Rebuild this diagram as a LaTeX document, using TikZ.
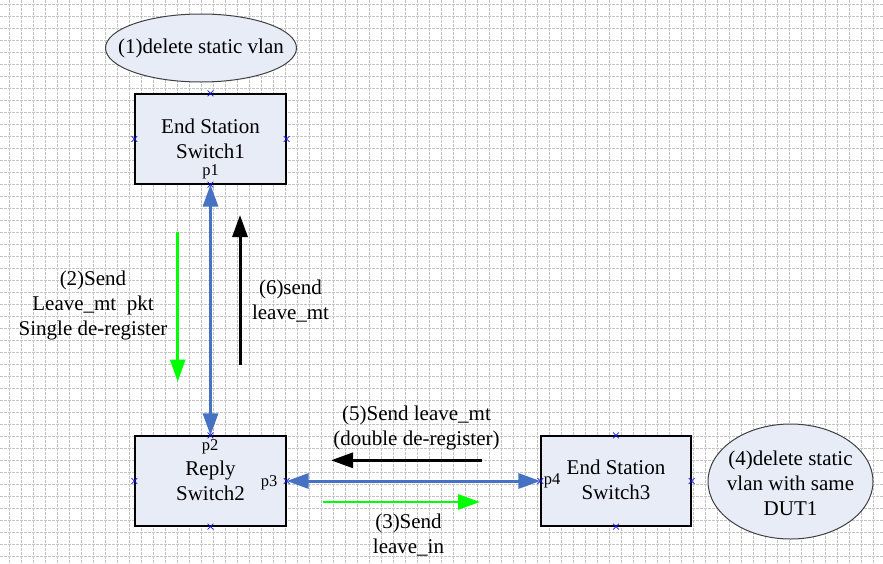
\documentclass[tikz,border=0pt]{standalone}
\usepackage{fontspec}
\setmainfont{Liberation Serif}
\usetikzlibrary{arrows.meta,shapes.geometric,shapes.misc}
\definecolor{gridc}{RGB}{196,196,196}
\definecolor{boxfill}{RGB}{231,236,247}
\definecolor{linkblue}{RGB}{70,114,196}
\definecolor{mkblue}{RGB}{20,20,230}
\definecolor{fgreen}{RGB}{0,255,0}
\begin{document}
\begin{tikzpicture}[x=1pt,y=-1pt,
  gridline/.style={gridc, line width=1pt, dash pattern=on 3pt off 1pt},
  box/.style={draw=black, line width=1.2pt, fill=boxfill, minimum width=151pt, minimum height=90pt, inner sep=0pt},
  oval/.style={ellipse, draw=black!75, line width=1pt, fill=boxfill, inner sep=0pt},
  txt/.style={font=\fontsize{21}{25}\selectfont, align=center, inner sep=0pt},
  port/.style={font=\fontsize{16.5}{19}\selectfont, inner sep=0pt, anchor=base},
  tip/.style={-{Triangle[width=15pt,length=22pt]}},
  link/.style={linkblue, line width=3pt, {Triangle[width=15pt,length=22pt]}-{Triangle[width=15pt,length=22pt]}},
  garrow/.style={fgreen, line width=2.6pt, tip},
  karrow/.style={black, line width=3pt, tip},
  xmk/.style={cross out, draw=mkblue, minimum size=5pt, inner sep=0pt, line width=0.8pt}
]
\useasboundingbox (0,0) rectangle (883,563);
\fill[white] (0,0) rectangle (883,563);
\foreach \x in {9.5,21.5,...,883} \draw[gridline] (\x,0) -- (\x,563);
\foreach \y in {4.5,16.5,...,563} \draw[gridline] (0,\y) -- (883,\y);

% boxes
\node[box] (b1) at (210.5,139) {};
\node[box] (b2) at (210.5,481) {};
\node[box, minimum width=150pt] (b3) at (616,481) {};
\node[oval, minimum width=191pt, minimum height=68pt] (e1) at (201,48) {};
\node[oval, minimum width=165pt, minimum height=115pt] (e4) at (790.5,481.5) {};

% texts
\node[txt] (t1) at (210.5,138.5) {End Station\\Switch1};
\node[port] (p1) at (210.5,175) {p1};
\node[txt] (t2) at (210.5,480.5) {Reply\\Switch2};
\node[port] (p2) at (210,450) {p2};
\node[port] (p3) at (269,486) {p3};
\node[txt] (t3) at (616,480) {End Station\\Switch3};
\node[port] (p4) at (552,484) {p4};
\node[txt] (e1t) at (201,48) {(1)delete static vlan};
\node[txt] (e4t) at (790.5,483) {(4)delete static\\vlan with same\\DUT1};

% links
\draw[link] (b1.south) -- (b2.north);
\draw[link] (b2.east) -- (b3.west);

% message arrows
\coordinate (g2s) at (177.7,232);
\coordinate (g2e) at (177.7,381.7);
\draw[garrow] (g2s) -- (g2e);
\coordinate (k6s) at (240,365);
\coordinate (k6e) at (240,215);
\draw[karrow] (k6s) -- (k6e);
\coordinate (k5s) at (481.7,460.3);
\coordinate (k5e) at (331,460.3);
\draw[karrow] (k5s) -- (k5e);
\coordinate (g3s) at (323,502);
\coordinate (g3e) at (480,502);
\draw[garrow] (g3s) -- (g3e);

% labels
\node[txt] (l2) at (93,305) {(2)Send\\Leave\_mt\ \ pkt\\Single de-register};
\node[txt] (l6) at (290.5,301.5) {(6)send\\leave\_mt};
\node[txt] (l5) at (416.5,427.5) {(5)Send leave\_mt\\(double de-register)};
\node[txt] (l3) at (408.5,535) {(3)Send\\leave\_in};

% connection point markers
\foreach \n in {b1,b2,b3}
  \foreach \a in {north,south,east,west}
    \node[xmk] (m-\n-\a) at (\n.\a) {};
\end{tikzpicture}
\end{document}
